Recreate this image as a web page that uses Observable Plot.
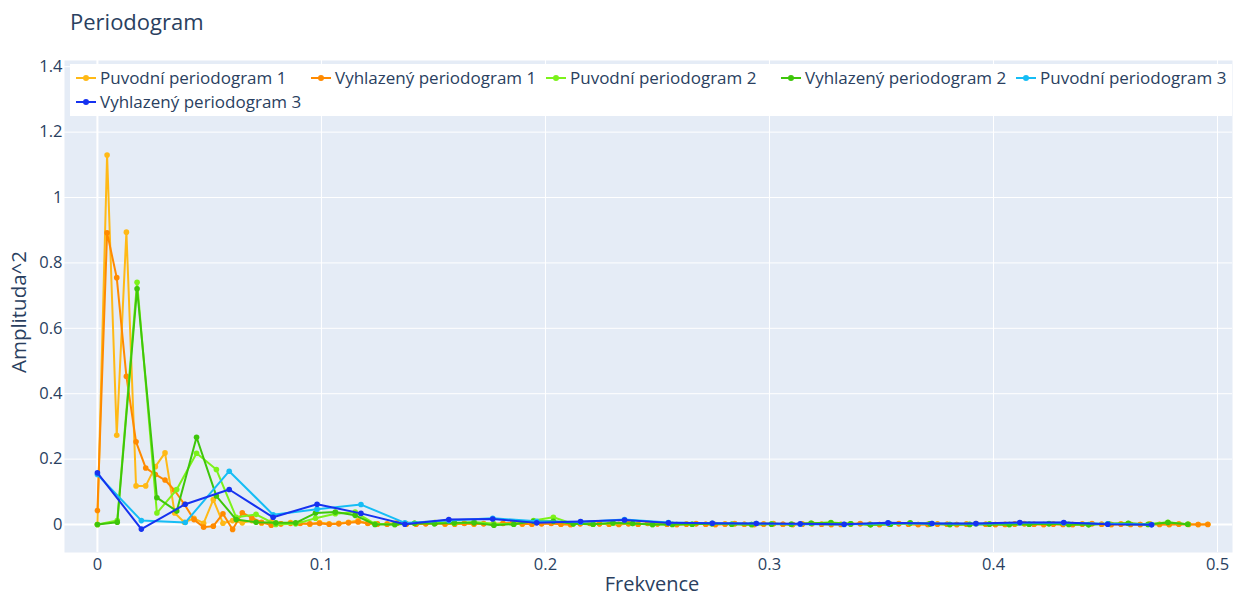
<!DOCTYPE html>
<html>
<head>
<meta charset="utf-8">
<script src="https://cdn.jsdelivr.net/npm/d3@7"></script>
<script src="https://cdn.jsdelivr.net/npm/@observablehq/plot@0.6"></script>
<style>
  body { margin: 0; background: #fff; }
  #wrap { position: relative; width: 1234px; height: 598px; overflow: hidden; font-family: "Open Sans", "DejaVu Sans", sans-serif; color: #2a3f5f; }
  #wrap svg.plot { position: absolute; left: 0; top: 0; }
  .title { position: absolute; left: 70px; top: 6px; font-size: 22px; }
  .xtitle { position: absolute; left: 64px; width: 1176px; top: 570px; line-height: 27px; text-align: center; font-size: 20px; }
  .ytitle { position: absolute; left: 18px; top: 312px; font-size: 20.5px; line-height: 22px; transform: translate(-50%, -50%) rotate(-90deg); white-space: nowrap; }
  .legend { position: absolute; left: 70px; top: 64px; width: 1162px; height: 52px; background: #fff; }
  .item { position: absolute; font-size: 17px; white-space: nowrap; line-height: 20px; }
  .sym { position: absolute; left: -24px; top: 9px; width: 20px; height: 2px; }
  .sym i { position: absolute; left: 7px; top: -2px; width: 6px; height: 6px; border-radius: 50%; }
</style>
</head>
<body>
<div id="wrap"></div>
<script>
// Frequency grids: index / length of each record
const N1 = 232, N2 = 113, N3 = 51;

const puvodni1 = [
  0.0, 1.13, 0.273, 0.894, 0.118, 0.118, 0.177, 0.219, 0.035, 0.007,
  0.019, 0.004, 0.076, 0.004, 0.012, 0.005, 0.012, 0.004, 0.008, 0.002,
  0.006, 0.003, 0.001, 0.006, 0.002, 0.004, 0.007, 0.012, 0.003, 0.001,
  0.002, 0.005, 0.001, 0.002, 0.003, 0.006, 0.001, 0.002, 0.004, 0.001,
  0.003, 0.002, 0.004, 0.006, 0.001, 0.002, 0.003, 0.004, 0.001, 0.0,
  0.003, 0.004, 0.002, 0.001, 0.001, 0.003, 0.001, 0.004, 0.002, 0.001,
  0.0, 0.002, 0.003, 0.001, 0.0, 0.002, 0.003, 0.001, 0.0, 0.002,
  0.003, 0.001, 0.0, 0.002, 0.003, 0.001, 0.0, 0.001, 0.002, 0.003,
  0.001, 0.0, 0.002, 0.003, 0.001, 0.0, 0.001, 0.002, 0.001, 0.0,
  0.002, 0.003, 0.001, 0.0, 0.001, 0.002, 0.003, 0.001, 0.0, 0.002,
  0.001, 0.0, 0.002, 0.003, 0.001, 0.0, 0.002, 0.001, 0.0, 0.002,
  0.001, 0.0, 0.002, 0.001, 0.0, 0.001
];
const vyhlazeny1 = [
  0.043, 0.892, 0.755, 0.453, 0.253, 0.173, 0.153, 0.136, 0.104, 0.062,
  0.015, -0.008, -0.005, 0.033, -0.015, 0.036, 0.02, 0.007, -0.002, 0.002,
  0.003, 0.004, 0.002, 0.003, 0.001, 0.002, 0.005, 0.008, 0.004, 0.002,
  0.001, 0.003, 0.002, 0.001, 0.002, 0.004, 0.002, 0.001, 0.003, 0.002,
  0.002, 0.001, 0.003, 0.004, 0.002, 0.001, 0.002, 0.003, 0.001, 0.0,
  0.002, 0.003, 0.002, 0.001, 0.0, 0.002, 0.001, 0.003, 0.002, 0.001,
  0.0, 0.001, 0.002, 0.001, 0.0, 0.001, 0.002, 0.001, 0.0, 0.001,
  0.002, 0.001, 0.0, 0.001, 0.002, 0.001, 0.0, 0.0, 0.001, 0.002,
  0.001, 0.0, 0.001, 0.002, 0.001, 0.0, 0.0, 0.001, 0.001, 0.0,
  0.001, 0.002, 0.001, 0.0, 0.0, 0.001, 0.002, 0.001, 0.0, 0.001,
  0.0, 0.0, 0.001, 0.002, 0.001, 0.0, 0.001, 0.0, 0.0, 0.001,
  0.0, 0.0, 0.001, 0.0, 0.0, 0.0
];
const puvodni2 = [
  0.0, 0.012, 0.741, 0.035, 0.107, 0.218, 0.168, 0.022, 0.031, 0.0,
  0.002, 0.019, 0.033, 0.038, 0.002, 0.0, 0.004, 0.006, 0.003, 0.008,
  0.002, 0.001, 0.012, 0.022, 0.002, 0.001, 0.004, 0.003, 0.0, 0.001,
  0.001, 0.003, 0.001, 0.0, 0.002, 0.001, 0.004, 0.006, 0.002, 0.0,
  0.001, 0.004, 0.002, 0.0, 0.001, 0.002, 0.0, 0.001, 0.003, 0.001,
  0.0, 0.002, 0.003, 0.001, 0.007, 0.001
];
const vyhlazeny2 = [
  0.0, 0.007, 0.721, 0.082, 0.041, 0.267, 0.087, 0.015, 0.007, 0.005,
  0.005, 0.035, 0.038, 0.028, 0.0, 0.0, 0.004, 0.002, 0.005, 0.005,
  -0.002, 0.001, 0.01, 0.01, 0.002, 0.001, 0.005, 0.003, 0.0, 0.0,
  0.001, 0.002, 0.001, 0.0, 0.001, 0.001, 0.004, 0.005, 0.002, -0.001,
  0.001, 0.005, 0.002, 0.0, 0.0, 0.001, 0.0, 0.001, 0.002, 0.0,
  -0.001, 0.002, 0.004, 0.0, 0.006, 0.001
];
const puvodni3 = [
  0.153, 0.012, 0.006, 0.163, 0.03, 0.047, 0.061, 0.005, 0.012, 0.019,
  0.01, 0.008, 0.015, 0.006, 0.004, 0.003, 0.001, 0.0, 0.004, 0.003,
  0.002, 0.005, 0.005, 0.002, 0.0
];
const vyhlazeny3 = [
  0.158, -0.014, 0.062, 0.107, 0.022, 0.062, 0.034, 0.001, 0.015, 0.017,
  0.005, 0.009, 0.014, 0.005, 0.004, 0.003, 0.002, 0.001, 0.005, 0.003,
  0.003, 0.006, 0.006, 0.001, -0.001
];

const seriesNames = [
  "Puvodní periodogram 1", "Vyhlazený periodogram 1",
  "Puvodní periodogram 2", "Vyhlazený periodogram 2",
  "Puvodní periodogram 3", "Vyhlazený periodogram 3"
];
const seriesColors = ["#FFB916", "#FF8A00", "#7CF21A", "#3EC60A", "#16BDF5", "#1632F0"];
const seriesValues = [puvodni1, vyhlazeny1, puvodni2, vyhlazeny2, puvodni3, vyhlazeny3];
const seriesN = [N1, N1, N2, N2, N3, N3];

const xTicks = [0, 0.1, 0.2, 0.3, 0.4, 0.5];
const yTicks = [0, 0.2, 0.4, 0.6, 0.8, 1, 1.2, 1.4];

const fmt = d => String(+d.toFixed(1));

const marks = [
  Plot.frame({fill: "#E5ECF6", stroke: null}),
  Plot.gridX(xTicks, {stroke: "#fff", strokeOpacity: 1, strokeWidth: 1}),
  Plot.gridY(yTicks, {stroke: "#fff", strokeOpacity: 1, strokeWidth: 1}),
  Plot.ruleX([0], {stroke: "#fff", strokeWidth: 2}),
  Plot.ruleY([0], {stroke: "#fff", strokeWidth: 2}),
  Plot.axisX(xTicks, {tickSize: 0, tickPadding: 6, tickFormat: fmt, fontSize: 16.5, fill: "#2a3f5f", label: null}),
  Plot.axisY(yTicks, {tickSize: 0, tickPadding: 2, tickFormat: fmt, fontSize: 16.5, fill: "#2a3f5f", label: null})
];

seriesValues.forEach((vals, s) => {
  const data = vals.map((v, i) => ({f: i / seriesN[s], v}));
  marks.push(Plot.line(data, {x: "f", y: "v", stroke: seriesColors[s], strokeWidth: 2}));
  marks.push(Plot.dot(data, {x: "f", y: "v", fill: seriesColors[s], r: 2.8, stroke: null}));
});

const chart = Plot.plot({
  width: 1234,
  height: 598,
  marginLeft: 64,
  marginRight: 2,
  marginTop: 60,
  marginBottom: 46,
  style: {fontFamily: '"Open Sans", "DejaVu Sans", sans-serif', background: "transparent", color: "#2a3f5f"},
  x: {domain: [-0.0147, 0.5067]},
  y: {domain: [-0.0856, 1.419]},
  marks
});
chart.classList.add("plot");

const wrap = document.getElementById("wrap");
wrap.appendChild(chart);

const title = document.createElement("div");
title.className = "title"; title.textContent = "Periodogram";
wrap.appendChild(title);

const xt = document.createElement("div");
xt.className = "xtitle"; xt.textContent = "Frekvence";
wrap.appendChild(xt);

const yt = document.createElement("div");
yt.className = "ytitle"; yt.textContent = "Amplituda^2";
wrap.appendChild(yt);

const legend = document.createElement("div");
legend.className = "legend";
wrap.appendChild(legend);
const itemPos = [[30, 4], [265, 4], [500, 4], [735, 4], [970, 4], [30, 28]];
seriesNames.forEach((name, s) => {
  const it = document.createElement("div");
  it.className = "item";
  it.style.left = itemPos[s][0] + "px";
  it.style.top = itemPos[s][1] + "px";
  it.innerHTML = `<span class="sym" style="background:${seriesColors[s]}"><i style="background:${seriesColors[s]}"></i></span>`;
  it.appendChild(document.createTextNode(name));
  legend.appendChild(it);
});
</script>
</body>
</html>
